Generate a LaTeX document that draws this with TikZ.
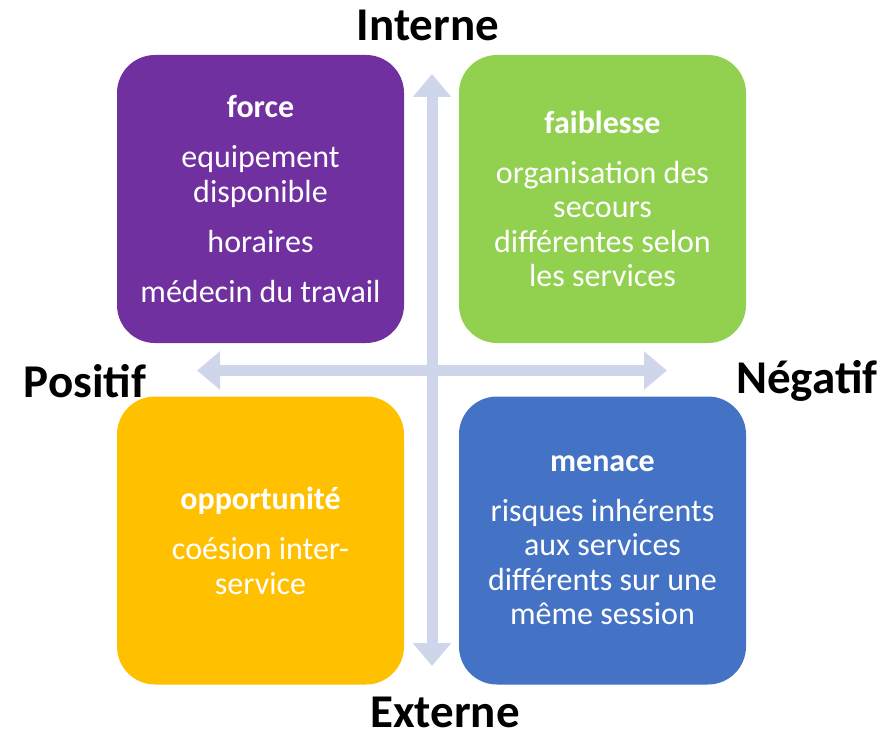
\documentclass[tikz,border=0pt]{standalone}
\usepackage{fontspec}
\setmainfont{Carlito}
\usetikzlibrary{arrows.meta}
\definecolor{cpurple}{HTML}{7030A0}
\definecolor{cgreen}{HTML}{92D050}
\definecolor{cyellow}{HTML}{FFC000}
\definecolor{cblue}{HTML}{4472C4}
\definecolor{carrow}{HTML}{CFD5EA}
\begin{document}
\begin{tikzpicture}[x=1pt,y=-1pt,
  quad/.style={rounded corners=38pt, minimum width=287pt, minimum height=288pt,
    text=white, align=center, inner sep=0pt,
    font=\fontsize{32}{34.5}\selectfont},
  axis/.style={carrow, line width=11pt, {Triangle[width=37pt,length=23pt]}-{Triangle[width=37pt,length=23pt]}},
  axlabel/.style={font=\fontsize{47}{56}\selectfont\bfseries, inner sep=0pt}]
\useasboundingbox (0,0) rectangle (894,733);
\coordinate (vt) at (432,74);
\coordinate (vb) at (432,666);
\coordinate (hl) at (197,370.5);
\coordinate (hr) at (667,370.5);
\draw[axis] (vt) -- (vb);
\draw[axis] (hl) -- (hr);
\node[quad, fill=cpurple] (force) at (260.5,199)
  {\textbf{force}\\[15.5pt]equipement\\disponible\\[15.5pt]horaires\\[15.5pt]médecin du travail};
\node[quad, fill=cgreen] (faib) at (602.5,199)
  {\textbf{faiblesse}\\[15pt]organisation des\\secours\\différentes selon\\les services};
\node[quad, fill=cyellow] (opp) at (260.5,540.5)
  {\textbf{opportunité}\\[16pt]coésion inter-\\service};
\node[quad, fill=cblue] (men) at (602.5,540.5)
  {\textbf{menace}\\[15pt]risques inhérents\\aux services\\différents sur une\\même session};
\node[axlabel] (int) at (428,25) {Interne};
\node[axlabel, text depth=0pt, anchor=base] (ext) at (445,727) {Externe};
\node[axlabel] (pos) at (85,381) {Positif};
\node[axlabel] (neg) at (807,381) {Négatif};
\end{tikzpicture}
\end{document}
